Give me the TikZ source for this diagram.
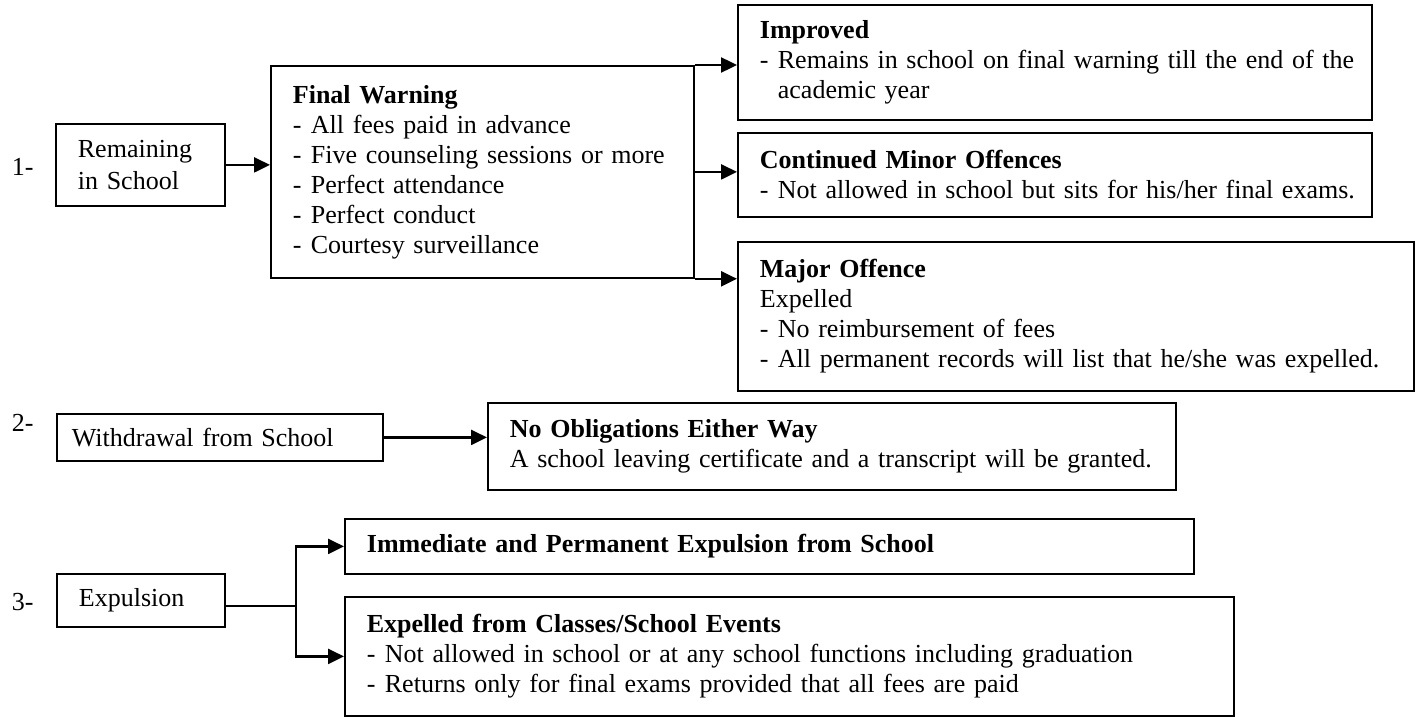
\documentclass[tikz,border=0pt]{standalone}
\usepackage{fontspec}
\setmainfont{Liberation Serif}
\usetikzlibrary{arrows.meta}
\newcommand{\dash}{\makebox[9pt][l]{-}}
\begin{document}
\begin{tikzpicture}[x=0.5pt, y=-0.5pt, line width=0.9pt,
    box/.style = {draw, anchor=north west, align=left, inner xsep=11pt, inner ysep=2pt, font=\fontsize{13pt}{15pt}\selectfont},
    num/.style = {anchor=west, inner sep=0pt, font=\fontsize{13pt}{15pt}\selectfont},
    arr/.style = {line width=1.2pt, -{Triangle[length=8pt,width=7.5pt]}}]
    \useasboundingbox (0,0) rectangle (1418,717);

    % 1- remaining in school
    \node[num] (n1) at (11,167) {1-};
    \node[box, text width=62.5pt, minimum height=41pt] (rem) at (55,123) {Remaining\\[1pt]in School};
    \node[box, text width=189.5pt, minimum height=106pt] (fw) at (270,65)
        {\textbf{Final Warning}\\
         \dash All fees paid in advance\\
         \dash Five counseling sessions or more\\
         \dash Perfect attendance\\
         \dash Perfect conduct\\
         \dash Courtesy surveillance};
    \node[box, text width=295pt, minimum height=57.5pt] (imp) at (737,4)
        {\textbf{Improved}\\
         \mbox{\dash Remains in school on final warning till the end of the}\\
         \hspace*{9pt}academic year};
    \node[box, text width=295pt, minimum height=42pt] (cont) at (737,132)
        {\textbf{Continued Minor Offences}\\
         \mbox{\dash Not allowed in school but sits for his/her final exams.}};
    \node[box, text width=316pt, minimum height=74.5pt] (maj) at (737,241)
        {\textbf{Major Offence}\\
         Expelled\\
         \dash No reimbursement of fees\\
         \mbox{\dash All permanent records will list that he/she was expelled.}};

    \draw[arr] (rem.east) -- (rem.east -| fw.west);
    \draw[arr] (fw.north east) -- (fw.north east -| imp.west);
    \draw[arr] (fw.east) -- (fw.east -| cont.west);
    \draw[arr] (fw.south east) -- (fw.south east -| maj.west);

    % 2- withdrawal
    \node[num] (n2) at (11,423) {2-};
    \node[box, inner xsep=7.5pt, text width=148pt, minimum height=23.5pt] (wd) at (56,413) {Withdrawal from School};
    \node[box, text width=322pt, minimum height=43.5pt] (noob) at (487,402)
        {\textbf{No Obligations Either Way}\\
         \mbox{A school leaving certificate and a transcript will be granted.}};
    \draw[arr] (wd.east) -- (wd.east -| noob.west);

    % 3- expulsion
    \node[num] (n3) at (11,602) {3-};
    \node[box, text width=62pt, minimum height=26.5pt] (exp) at (56,573) {Expulsion};
    \node[box, text width=402.5pt, minimum height=27.5pt] (imm) at (344,518)
        {\textbf{Immediate and Permanent Expulsion from School}};
    \node[box, text width=422.5pt, minimum height=59.5pt] (expl) at (344,596)
        {\textbf{Expelled from Classes/School Events}\\
         \dash Not allowed in school or at any school functions including graduation\\
         \dash Returns only for final exams provided that all fees are paid};
    \coordinate (j) at (296,606);
    \draw[line width=0.6pt] (exp.east |- j) -- (j);
    \draw[arr] (j) |- (imm.west);
    \draw[arr] (j) |- (expl.west);
\end{tikzpicture}
\end{document}
